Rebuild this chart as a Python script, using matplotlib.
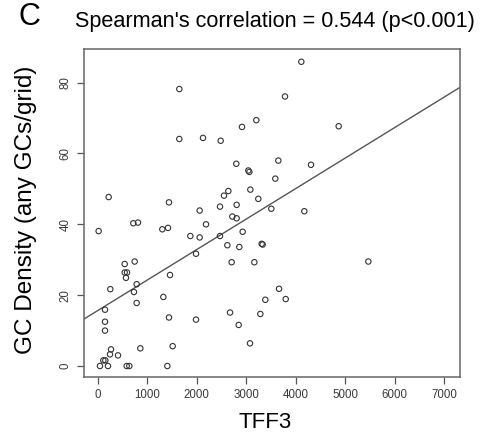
import numpy as np
import matplotlib
matplotlib.use('Agg')
from matplotlib import pyplot as plt

plt.rcParams['font.family'] = ['Liberation Sans', 'DejaVu Sans']

# TFF3 expression vs GC density
tff3 = [1645, 1645, 2124, 2482, 2913, 3203, 3648, 2798, 3041, 3062,
        3587, 3082, 3243, 2637, 2549, 2805, 2468, 2057, 1436, 216,
        3506, 2718, 2805, 715, 809, 2185, 4113, 3783, 4869, 4309,
        4174, 13, 1301, 1416, 1868, 2057, 2468, 2927, 2617, 2859,
        3311, 3331, 1983, 2704, 3163, 540, 742, 540, 587, 566,
        1457, 782, 249, 728, 3662, 782, 1322, 142, 3385, 1436,
        1983, 2671, 3284, 142, 142, 2846, 3075, 856, 1511, 263,
        243, 405, 108, 148, 40, 202, 580, 634, 1403, 5469, 3797]
gc_density = [78.2, 64.1, 64.4, 63.6, 67.5, 69.4, 58.0, 57.1, 55.2, 54.8,
              52.9, 49.8, 47.2, 49.4, 48.1, 45.5, 45.0, 43.9, 46.2, 47.7,
              44.4, 42.2, 41.7, 40.3, 40.5, 40.0, 85.9, 76.1, 67.7, 56.8,
              43.7, 38.1, 38.6, 39.0, 36.7, 36.3, 36.7, 37.9, 34.1, 33.6,
              34.5, 34.3, 31.7, 29.3, 29.3, 28.8, 29.5, 26.4, 26.4, 24.9,
              25.7, 23.1, 21.7, 20.9, 21.8, 17.8, 19.5, 15.9, 18.7, 13.7,
              13.1, 15.1, 14.7, 12.5, 10.0, 11.6, 6.4, 5.0, 5.6, 4.7,
              3.3, 3.0, 1.6, 1.6, 0.0, 0.0, 0.0, 0.0, 0.0, 29.5, 18.9]

# fitted line
fit_intercept = 15.7
fit_slope = 0.0086

x_ticks = [0, 1000, 2000, 3000, 4000, 5000, 6000, 7000]
y_ticks = [0, 20, 40, 60, 80]

fig = plt.figure(figsize=(4.82, 4.38), dpi=100)
ax = fig.add_axes([84 / 482, 1 - 377 / 438, 376 / 482, 328 / 438])

ax.scatter(tff3, gc_density, s=15, facecolors='none', edgecolors='#333333',
           linewidths=0.8, zorder=3)
ax.axline((0, fit_intercept), slope=fit_slope, color='#555555', lw=1.0)

ax.set_xlim(-283, 7323)
ax.set_ylim(-3.1, 89.5)
ax.set_xticks(x_ticks)
ax.set_yticks(y_ticks)
ax.set_xticklabels([str(t) for t in x_ticks], fontsize=8.3, color='#3a3a3a')
ax.set_yticklabels([str(t) for t in y_ticks], fontsize=8.3, color='#3a3a3a',
                   rotation=90, va='center')
ax.tick_params(direction='out', length=5, width=0.9, color='#555555', pad=4)
for sp in ax.spines.values():
    sp.set_color('#666666')
    sp.set_linewidth(1.1)

fig.text(29 / 482, 1 - 17 / 438, 'C', fontsize=22, ha='center', va='center')
fig.text(275 / 482, 1 - 21 / 438, "Spearman's correlation = 0.544 (p<0.001)",
         fontsize=15.6, ha='center', va='center')
fig.text(26 / 482, 1 - 210 / 438, 'GC Density (any GCs/grid)', fontsize=17.5,
         rotation=90, ha='center', va='center')
fig.text(265 / 482, 1 - 423 / 438, 'TFF3', fontsize=16, ha='center', va='center')

fig.savefig('out.png', dpi=100)
